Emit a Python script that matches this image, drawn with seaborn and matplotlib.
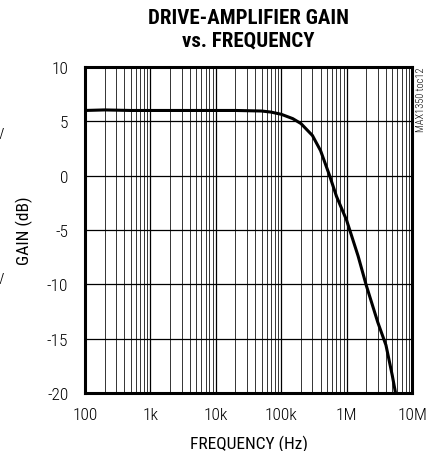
import numpy as np
import pandas as pd
import seaborn as sns
import matplotlib.pyplot as plt
import matplotlib.ticker as mticker

# values
freq_hz = [100, 200, 500, 1e3, 2e3, 5e3, 1e4, 2e4, 5e4, 7e4, 1e5, 1.5e5, 2e5, 3e5,
           4e5, 5.5e5, 7e5, 1e6, 1.5e6, 2e6, 3e6, 4e6, 5e6, 5.6e6]
gain_db = [6.0, 6.05, 6.0, 6.0, 6.0, 6.0, 6.0, 6.0, 5.95, 5.85, 5.65, 5.25, 4.8, 3.7,
           2.3, 0.0, -1.9, -4.1, -7.4, -10.1, -13.5, -15.6, -18.4, -20.0]
x_ticks = [100, 1e3, 1e4, 1e5, 1e6, 1e7]
x_labels = ['100', '1k', '10k', '100k', '1M', '10M']
y_ticks = [-20, -15, -10, -5, 0, 5, 10]

sns.set_style('white')
plt.rcParams['font.family'] = ['Roboto Condensed', 'DejaVu Sans']
plt.rcParams['font.weight'] = 'light'
plt.rcParams['axes.unicode_minus'] = False
plt.rcParams['text.color'] = 'black'
plt.rcParams['axes.labelcolor'] = 'black'

df = pd.DataFrame({'freq': freq_hz, 'gain': gain_db})

fig = plt.figure(figsize=(4.38, 4.52), dpi=100)
ax = fig.add_axes([85 / 438, 1 - 394 / 452, 327 / 438, 326 / 452])

sns.lineplot(data=df, x='freq', y='gain', ax=ax, color='black', linewidth=2.2)

ax.set_xscale('log')
ax.set_xlim(100, 1e7)
ax.set_ylim(-20, 10)
ax.set_xticks(x_ticks)
ax.set_xticklabels(x_labels)
ax.set_yticks(y_ticks)
ax.xaxis.set_minor_locator(mticker.LogLocator(base=10, subs=np.arange(2, 10)))
ax.xaxis.set_minor_formatter(mticker.NullFormatter())
ax.grid(True, which='major', color='black', linewidth=0.9)
ax.grid(True, which='minor', axis='x', color='#333333', linewidth=0.7)
ax.tick_params(which='both', length=0, labelsize=12.5, colors='black')
ax.tick_params(axis='y', pad=12)
ax.tick_params(axis='x', pad=10)
for s in ax.spines.values():
    s.set_linewidth(2.2)
    s.set_color('black')

ax.set_xlabel('FREQUENCY (Hz)', fontsize=12.5, labelpad=9)
ax.set_ylabel('GAIN (dB)', fontsize=12.5, labelpad=10)

fig.text(248 / 438, 1 - 30 / 452, 'DRIVE-AMPLIFIER GAIN\nvs. FREQUENCY', ha='center',
         va='center', fontsize=15, fontweight='heavy', linespacing=1.2)
fig.text(421 / 438, 1 - 68 / 452, 'MAX1350 toc12', rotation=90, ha='center', va='top',
         fontsize=7.5)
# fragments of the neighbouring chart at the left edge
fig.text(0.0, 1 - 135 / 452, 'V', ha='center', va='center', fontsize=11)
fig.text(0.0, 1 - 280 / 452, 'V', ha='center', va='center', fontsize=11)

fig.savefig('out.png', dpi=100)
